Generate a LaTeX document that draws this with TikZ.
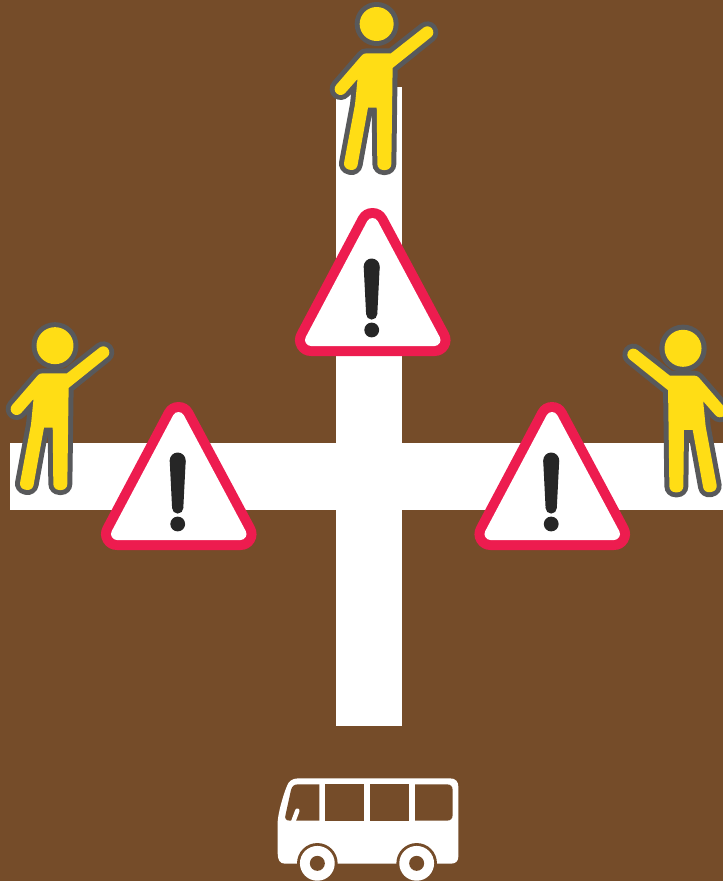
\documentclass[tikz,border=0pt]{standalone}
\definecolor{ground}{HTML}{754C29}
\definecolor{figyellow}{HTML}{FFDD15}
\definecolor{figgray}{HTML}{58595B}
\definecolor{signred}{HTML}{ED1C4F}
\definecolor{signink}{HTML}{262626}
\newcommand{\bodypath}{(127,193) -- (207,193) -- (310,112) -- (188,210) -- (184,507) -- (178,507) -- (176,320) -- (117,320) -- (83,507) -- (78,506) -- (111,330) -- (124,198) -- (50,282) -- cycle}
\newcommand{\fulltri}[2]{%
  \begin{scope}[shift={(#1,#2)}]
    \draw[signout] (0,16) -- (-61.5,132) -- (62,132) -- cycle;
    \draw[signin] (0,16) -- (-61.5,132) -- (62,132) -- cycle;
    \fill[signink] (-0.8,58.5) circle[radius=8];
    \fill[signink] (-0.8,106) circle[radius=5.6];
    \fill[signink] (-8.8,58.5) -- (7.2,58.5) -- (4.8,106) -- (-6.4,106) -- cycle;
    \fill[signink] (-0.8,122) circle[radius=7.4];
  \end{scope}}
\newcommand{\waver}[7]{% shift x,y; xscale; head x,y in local units; head radii
  \begin{scope}[shift={(#1,#2)},x=#3pt,y=-0.33333pt]
    \draw[figouter] \bodypath;
    \fill[figgray] (#4,#5) circle[radius=#7pt];
    \draw[figinner] \bodypath;
    \fill[figyellow] (#4,#5) circle[radius=#6pt];
  \end{scope}}
\tikzset{
  road/.style={fill=white},
  signout/.style={draw=signred,fill=signred,line width=32pt,line join=round},
  signin/.style={draw=white,fill=white,line width=12pt,line join=round},
  figouter/.style={draw=figgray,fill=figgray,line width=22pt,line join=round},
  figinner/.style={draw=figyellow,fill=figyellow,line width=12pt,line join=round},
}
\begin{document}
\begin{tikzpicture}[x=1pt,y=-1pt]
  \useasboundingbox (0,0) rectangle (723,881);
  \clip (0,0) rectangle (723,881);
  \fill[ground] (0,0) rectangle (723,881);
  % roads
  \fill[road] (335.8,87) rectangle (402.4,726);
  \fill[road] (9.5,443.3) rectangle (723,510);
  % figures
  \waver{324}{-5}{0.33333}{158}{87}{17}{22}
  \waver{0}{315}{0.33333}{165}{92}{18.5}{23.5}
  \waver{736.7}{317.3}{-0.33333}{161}{93}{18.5}{23.7}
  % warning signs
  \fulltri{372.5}{208}
  \fulltri{178.5}{402}
  \fulltri{552}{402}
  % bus
  \begin{scope}[shift={(265,765)},x=0.33333pt,y=-0.33333pt]
    \fill[white] (38,265) -- (38,170) .. controls (40,140) and (55,90) .. (65,65) .. controls (70,50) and (80,40) .. (100,40) -- (555,40) .. controls (572,40) and (580,50) .. (580,65) -- (580,275) .. controls (580,288) and (572,296) .. (558,296) -- (60,296) .. controls (45,296) and (38,285) .. (38,265) -- cycle;
    \fill[ground] (163,58) -- (163,167) -- (75,167) .. controls (62,167) and (58,160) .. (62,148) -- (78,75) .. controls (82,62) and (88,58) .. (100,58) -- cycle;
    \draw[white,line width=4.5pt,line cap=round] (97,137) -- (84,172);
    \fill[ground] (180,58) rectangle (298,167);
    \fill[ground] (316,58) rectangle (432,167);
    \fill[ground] (450,58) -- (545,58) .. controls (557,58) and (563,64) .. (563,76) -- (563,149) .. controls (563,161) and (557,167) .. (545,167) -- (450,167) -- cycle;
    \foreach \wx in {157,455} {
      \fill[ground] (\wx,295) circle[radius=20.3pt];
      \fill[white] (\wx,295) circle[radius=17.4pt];
      \fill[ground] (\wx,295) circle[radius=7.5pt];
    }
  \end{scope}
\end{tikzpicture}
\end{document}
